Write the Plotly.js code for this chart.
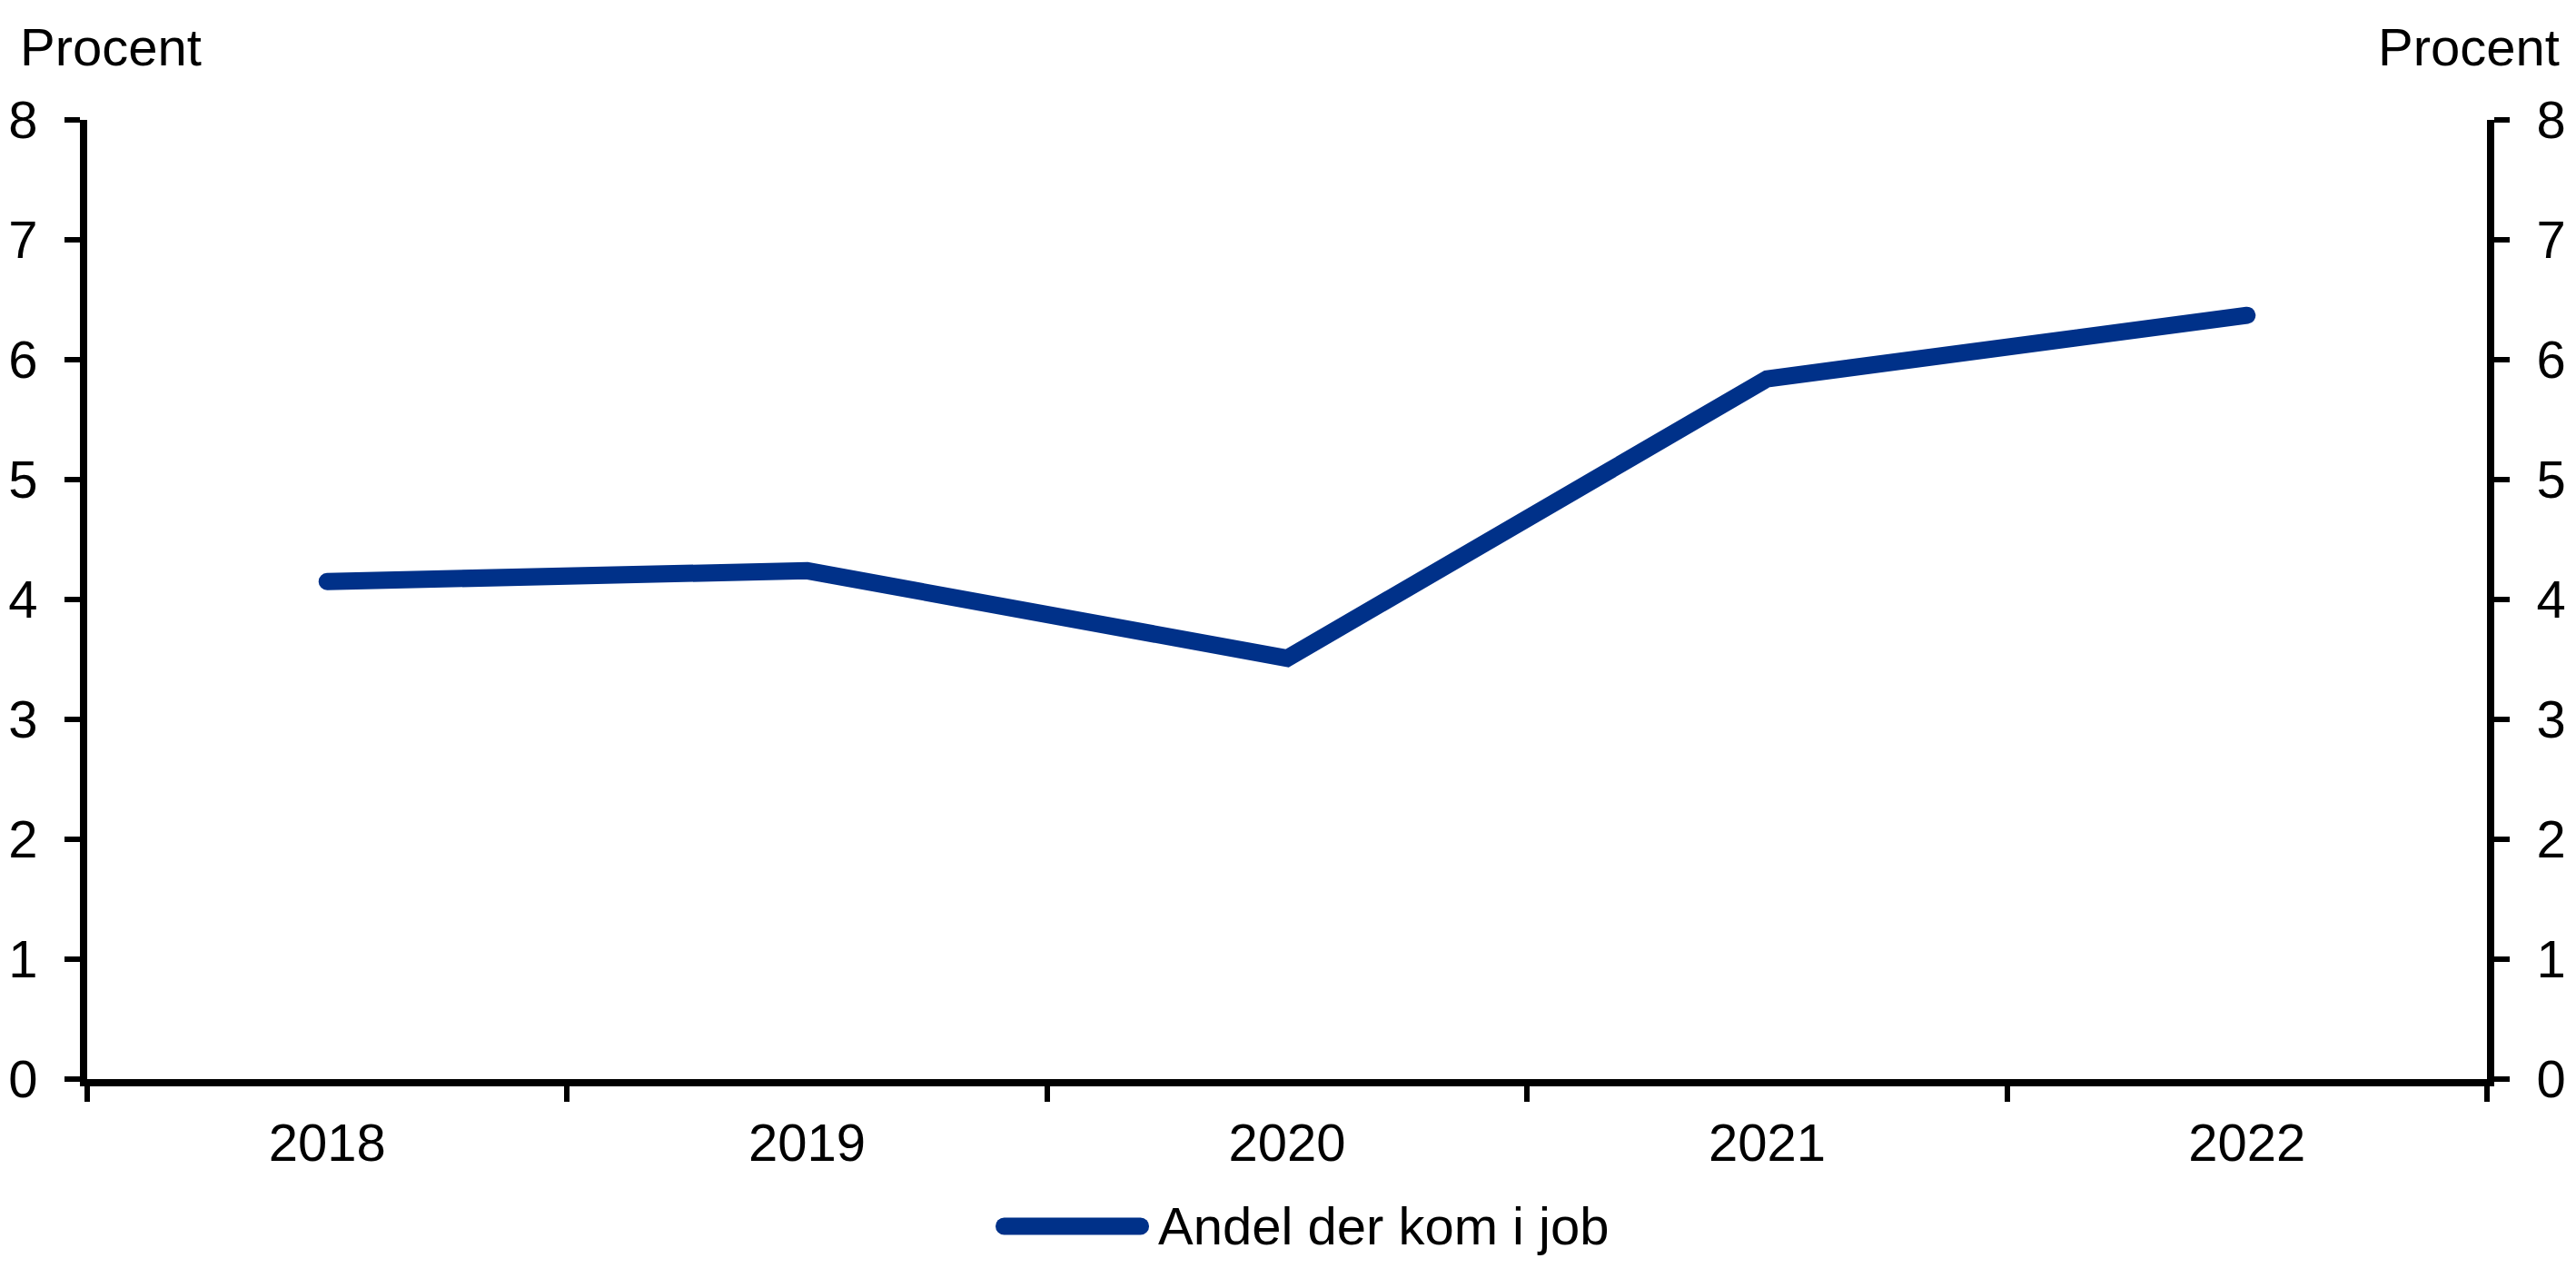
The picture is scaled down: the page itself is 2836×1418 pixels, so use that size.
<!DOCTYPE html>
<html>
<head>
<meta charset="utf-8">
<script src="https://cdn.plot.ly/plotly-3.0.1.min.js"></script>
<style>
  html, body { margin: 0; padding: 0; background: #fff; }
  #chart { width: 2836px; height: 1418px; }
  .scatterlayer path.js-line { stroke-linecap: round; }
  .shapelayer path { stroke-linecap: round; }
</style>
</head>
<body>
<div id="chart"></div>
<script>
const years = ["2018", "2019", "2020", "2021", "2022"];
const andelDerKomIJob = [4.15, 4.24, 3.51, 5.84, 6.37];
const seriesName = "Andel der kom i job";
const yTicks = [0, 1, 2, 3, 4, 5, 6, 7, 8];
const yUnit = "Procent";

const FONT = "Liberation Sans, Arial, sans-serif";
const BLUE = "#003189";
const FS = 58;
const LINE_W = 19;

const trace = {
  x: years,
  y: andelDerKomIJob,
  type: "scatter",
  mode: "lines",
  name: seriesName,
  line: { color: BLUE, width: LINE_W },
  hoverinfo: "skip",
  showlegend: false
};

// empty helper trace so the right-hand axis (yaxis2) is drawn
const rightAxisHelper = {
  x: [], y: [], type: "scatter", mode: "lines",
  yaxis: "y2", showlegend: false, hoverinfo: "skip"
};

const axisCommon = {
  showline: true,
  linecolor: "#000",
  linewidth: 8,
  ticks: "outside",
  ticklen: 17,
  tickwidth: 6,
  tickcolor: "#000",
  showgrid: false,
  zeroline: false,
  tickfont: { family: FONT, size: FS, color: "#000" }
};

const layout = {
  width: 2836,
  height: 1418,
  margin: { l: 96, r: 98, t: 132, b: 230, autoexpand: false },
  paper_bgcolor: "#fff",
  plot_bgcolor: "#fff",
  font: { family: FONT, size: FS, color: "#000" },
  showlegend: false,
  xaxis: Object.assign({}, axisCommon, {
    type: "category",
    range: [-0.5, 4.5],
    tickson: "boundaries",
    ticklabelstandoff: 12,
    fixedrange: true
  }),
  yaxis: Object.assign({}, axisCommon, {
    range: [0, 8],
    tickvals: yTicks,
    ticktext: yTicks.map(String),
    ticklabelstandoff: 18,
    fixedrange: true
  }),
  yaxis2: Object.assign({}, axisCommon, {
    range: [0, 8],
    tickvals: yTicks,
    ticktext: yTicks.map(String),
    overlaying: "y",
    side: "right",
    anchor: "x",
    ticklabelstandoff: 18,
    fixedrange: true
  }),
  // legend key (line sample) drawn as a shape, label as annotation
  shapes: [
    {
      type: "line", xref: "paper", yref: "paper",
      x0: 0.3821, x1: 0.4389, y0: -0.1534, y1: -0.1534,
      line: { color: BLUE, width: LINE_W }
    }
  ],
  annotations: [
    {
      text: yUnit, xref: "paper", yref: "paper",
      x: -0.0288, y: 1.076, xanchor: "left", yanchor: "middle",
      showarrow: false, font: { family: FONT, size: FS, color: "#000" }
    },
    {
      text: yUnit, xref: "paper", yref: "paper",
      x: 1.0311, y: 1.076, xanchor: "right", yanchor: "middle",
      showarrow: false, font: { family: FONT, size: FS, color: "#000" }
    },
    {
      text: seriesName, xref: "paper", yref: "paper",
      x: 0.4455, y: -0.1534, xanchor: "left", yanchor: "middle",
      showarrow: false, font: { family: FONT, size: FS, color: "#000" }
    }
  ]
};

Plotly.newPlot("chart", [trace, rightAxisHelper], layout, { staticPlot: true, displayModeBar: false });
</script>
</body>
</html>
